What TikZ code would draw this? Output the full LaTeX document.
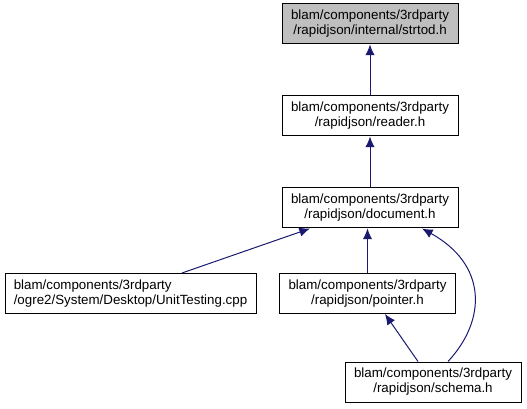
\documentclass[tikz,border=0pt]{standalone}
\usepackage{fontspec}
\setmainfont{Liberation Sans}
\usetikzlibrary{arrows.meta,positioning}
\definecolor{edgeblue}{RGB}{25,25,112}
\definecolor{curgray}{RGB}{191,191,191}
\tikzset{
  filebox/.style={rectangle, draw=black, line width=0.75pt, fill=white,
                  minimum width=132pt, minimum height=30pt, inner sep=2pt,
                  align=center, font=\fontsize{10}{11.25}\selectfont},
  curbox/.style={filebox, fill=curgray},
  dep/.style={{Latex[length=8pt,width=7pt]}-, draw=edgeblue, line width=0.75pt},
}
\begin{document}
\begin{tikzpicture}[x=0.75pt, y=-0.75pt]
\useasboundingbox (0,0) rectangle (527,409);

% ============================ include chain ==============================
\node[curbox] (strtod) at (370,24) {blam/components/3rdparty\\/rapidjson/internal/strtod.h};
\node[filebox, below=38.25pt of strtod] (reader) {blam/components/3rdparty\\/rapidjson/reader.h};
\node[filebox, below=38.25pt of reader] (document) {blam/components/3rdparty\\/rapidjson/document.h};

% ============================ includers ==================================
\node[filebox, minimum width=188.25pt, align=left] (unittest) at (130.5,293.5)
  {blam/components/3rdparty\\/ogre2/System/Desktop/UnitTesting.cpp};
\node[filebox] (pointer) at (367.5,293.5) {blam/components/3rdparty\\/rapidjson/pointer.h};
\node[filebox] (schema) at (433,382) {blam/components/3rdparty\\/rapidjson/schema.h};

% ============================ edges ======================================
\draw[dep] (strtod) -- (reader);
\draw[dep] (reader) -- (document);
\draw[dep] ([xshift=-45pt]document.south) -- ([xshift=38.6pt]unittest.north);
\draw[dep] (pointer.north |- document.south) -- (pointer.north);
\draw[dep] ([xshift=13.1pt]pointer.south) -- ([xshift=-11.25pt]schema.north);
\draw[dep] ([xshift=39pt]document.south) .. controls +(65,36) and +(39,-42) .. ([xshift=11.25pt]schema.north);

\end{tikzpicture}
\end{document}
